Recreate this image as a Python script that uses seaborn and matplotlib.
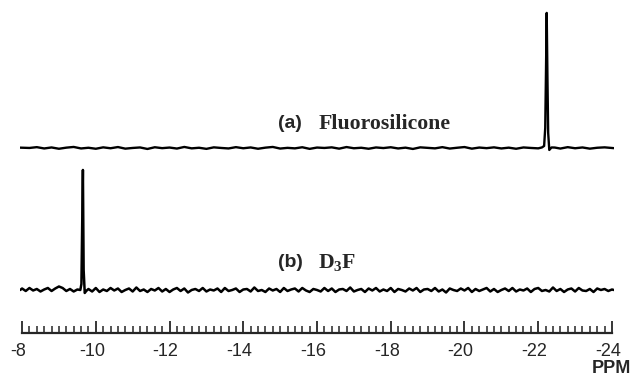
import matplotlib
matplotlib.use("Agg")
import matplotlib.pyplot as plt
import matplotlib.transforms as mtransforms
import seaborn as sns
from matplotlib.ticker import MultipleLocator

# (a) Fluorosilicone trace: chemical shift (ppm) and intensity (arb.)
ppm_a = [-7.95,
         -8.2, -8.4, -8.6, -8.8, -9.0, -9.2, -9.4, -9.6, -9.8, -10.0,
         -10.2, -10.4, -10.6, -10.8, -11.0, -11.2, -11.4, -11.6, -11.8, -12.0,
         -12.2, -12.4, -12.6, -12.8, -13.0, -13.2, -13.4, -13.6, -13.8, -14.0,
         -14.2, -14.4, -14.6, -14.8, -15.0, -15.2, -15.4, -15.6, -15.8, -16.0,
         -16.2, -16.4, -16.6, -16.8, -17.0, -17.2, -17.4, -17.6, -17.8, -18.0,
         -18.2, -18.4, -18.6, -18.8, -19.0, -19.2, -19.4, -19.6, -19.8, -20.0,
         -20.2, -20.4, -20.6, -20.8, -21.0, -21.2, -21.4, -21.6, -21.8, -22.0,
         -22.1, -22.16, -22.19, -22.21, -22.23, -22.25, -22.27, -22.3, -22.36,
         -22.45, -22.6, -22.8, -23.0, -23.2, -23.4, -23.6, -23.8, -24.05]
int_a = [0.3,
         0, 0.8, -0.5, 0.5, -0.8, 0.3, 1, -0.5, 0.2, -0.8,
         0.6, -0.3, 0.9, -0.7, 0, 0.5, -1, 0.7, -0.2, 0.4,
         -0.6, 1, -0.4, 0.2, -0.9, 0.6, 0, -0.5, 0.8, -0.3,
         0.5, -0.8, 0.3, 1, -0.6, 0.1, -0.4, 0.7, -0.9, 0.4,
         0, 0.6, -0.7, 0.9, -0.3, 0.2, -0.8, 0.5, -0.1, 0.7,
         -0.5, 0.3, -1, 0.6, 0.1, -0.4, 0.8, -0.6, 0.2, 0.9,
         -0.7, 0.4, -0.2, 0.6, -0.5, 0.3, -0.8, 0.5, 0, -0.4,
         0.5, 2, 20, 75, 135, 70, 15, -2, 0.5,
         0.4, -0.6, 0.8, -0.3, 0.5, -0.7, 0.2, 0.6, -0.2]

# (b) D3F trace
ppm_b = [-7.95, -8.0, -8.1, -8.2, -8.3, -8.4, -8.5, -8.6, -8.7, -8.8, -8.9,
         -9.0, -9.1, -9.2, -9.3, -9.4, -9.5,
         -9.58, -9.61, -9.63, -9.65, -9.67, -9.7, -9.74,
         -9.8, -9.9, -10.0, -10.1, -10.2, -10.3, -10.4, -10.5, -10.6, -10.7,
         -10.8, -10.9, -11.0, -11.1, -11.2, -11.3, -11.4, -11.5, -11.6, -11.7,
         -11.8, -11.9, -12.0, -12.1, -12.2, -12.3, -12.4, -12.5, -12.6, -12.7,
         -12.8, -12.9, -13.0, -13.1, -13.2, -13.3, -13.4, -13.5, -13.6, -13.7,
         -13.8, -13.9, -14.0, -14.1, -14.2, -14.3, -14.4, -14.5, -14.6, -14.7,
         -14.8, -14.9, -15.0, -15.1, -15.2, -15.3, -15.4, -15.5, -15.6, -15.7,
         -15.8, -15.9, -16.0, -16.1, -16.2, -16.3, -16.4, -16.5, -16.6, -16.7,
         -16.8, -16.9, -17.0, -17.1, -17.2, -17.3, -17.4, -17.5, -17.6, -17.7,
         -17.8, -17.9, -18.0, -18.1, -18.2, -18.3, -18.4, -18.5, -18.6, -18.7,
         -18.8, -18.9, -19.0, -19.1, -19.2, -19.3, -19.4, -19.5, -19.6, -19.7,
         -19.8, -19.9, -20.0, -20.1, -20.2, -20.3, -20.4, -20.5, -20.6, -20.7,
         -20.8, -20.9, -21.0, -21.1, -21.2, -21.3, -21.4, -21.5, -21.6, -21.7,
         -21.8, -21.9, -22.0, -22.1, -22.2, -22.3, -22.4, -22.5, -22.6, -22.7,
         -22.8, -22.9, -23.0, -23.1, -23.2, -23.3, -23.4, -23.5, -23.6, -23.7,
         -23.8, -23.9, -24.0, -24.05]
int_b = [0, 1.5, -1, 2, -0.5, 1, -1.5, 0.5, 2, -1, 1.5,
         3.5, 2, -1, 1, -1.5, 0.5,
         0, 6, 60, 120, 20, -3, -1,
         1, -1.5, 2, -2, 0.5, -1, 2, -0.5, 1.5, -2,
         0, 1.5, -1.5, 2.5, -1, 0.5, -2, 1, -0.5, 2,
         -1.5, 1, -2, 0.5, 2, -1, 1.5, -2.5, 0, 1,
         -1, 2, -1.5, 0.5, -0.5, 1.5, -2, 2, -1, 0,
         1.5, -2, 0.5, 1, -1.5, 2.5, -1, 0, -2, 1.5,
         -0.5, 1, -2, 2, -1, 0.5, 1.5, -1.5, 2, -0.5,
         -2, 1, 0, -1.5, 2, -1, 1.5, -2, 0.5, 1,
         -1, 2.5, -1.5, 0, 1, -2, 1.5, -0.5, 2, -1.5,
         0.5, -1, 2, -2, 1, 0, -1.5, 1.5, -0.5, 2,
         -2, 0.5, 1, -1, 2, -1.5, 0.5, -2.5, 1.5, 0,
         -1, 1.5, -0.5, 2, -2, 1, -1, 0.5, 2, -1.5,
         1, -2, 0, 1.5, -1, 2, -1.5, 0.5, -0.5, 1.5,
         -2, 1, 2, -1, 0, -1.5, 2.5, -1, 1, -2,
         0.5, 1.5, -1.5, 2, -0.5, -1, 1, -2, 1.5, 0,
         1, -1, 0.5, 0]

ticks = [-8, -10, -12, -14, -16, -18, -20, -22, -24]

sns.set_style("white")
plt.rcParams["font.family"] = ["Liberation Sans", "DejaVu Sans"]
plt.rcParams["mathtext.fontset"] = "custom"
plt.rcParams["mathtext.rm"] = "Liberation Serif:bold"
plt.rcParams["mathtext.bf"] = "Liberation Serif:bold"

fig = plt.figure(figsize=(6.36, 3.77), dpi=100)
ax = fig.add_axes([0.0318, 0.1167, 0.9333, 0.8570])

offset_a = 142
sns.lineplot(x=ppm_b, y=int_b, ax=ax, color="black", lw=1.8, sort=False,
             estimator=None)
sns.lineplot(x=ppm_a, y=[v + offset_a for v in int_a], ax=ax, color="black",
             lw=1.7, sort=False, estimator=None)

ax.set_xlim(-7.95, -24.05)
ax.set_ylim(-43, 280)
for s in ["left", "top", "right"]:
    ax.spines[s].set_visible(False)
ax.spines["bottom"].set_bounds(-24, -8)
ax.spines["bottom"].set_linewidth(1.6)
ax.set_yticks([])
ax.set_xticks(ticks)
ax.set_xticklabels([str(t) for t in ticks])
ax.xaxis.set_minor_locator(MultipleLocator(0.2))
ax.tick_params(axis="x", which="major", direction="in", length=9, width=1.3,
               pad=7, labelsize=13, bottom=True)
ax.tick_params(axis="x", which="minor", direction="in", length=5, width=1.1,
               bottom=True)
shift = mtransforms.ScaledTranslation(-4 / 100, 0, fig.dpi_scale_trans)
for lab in ax.get_xticklabels():
    lab.set_transform(lab.get_transform() + shift)
ax.set_xlabel("")
ax.set_ylabel("")

ax.text(-14.94, 166, "(a)", fontsize=14, fontweight="bold", ha="left",
        va="center", family=["Liberation Sans"])
ax.text(-16.03, 166, "Fluorosilicone", fontsize=15.7, fontweight="bold",
        ha="left", va="center", family=["Liberation Serif"])
ax.text(-14.94, 27, "(b)", fontsize=14, fontweight="bold", ha="left",
        va="center", family=["Liberation Sans"])
ax.text(-16.03, 27, r"$\mathbf{D_3F}$", fontsize=15.7, ha="left",
        va="center")

fig.text(0.962, 0.0, "PPM", fontsize=13, fontweight="bold", ha="center",
         va="bottom")

fig.savefig("out.png", dpi=100)
